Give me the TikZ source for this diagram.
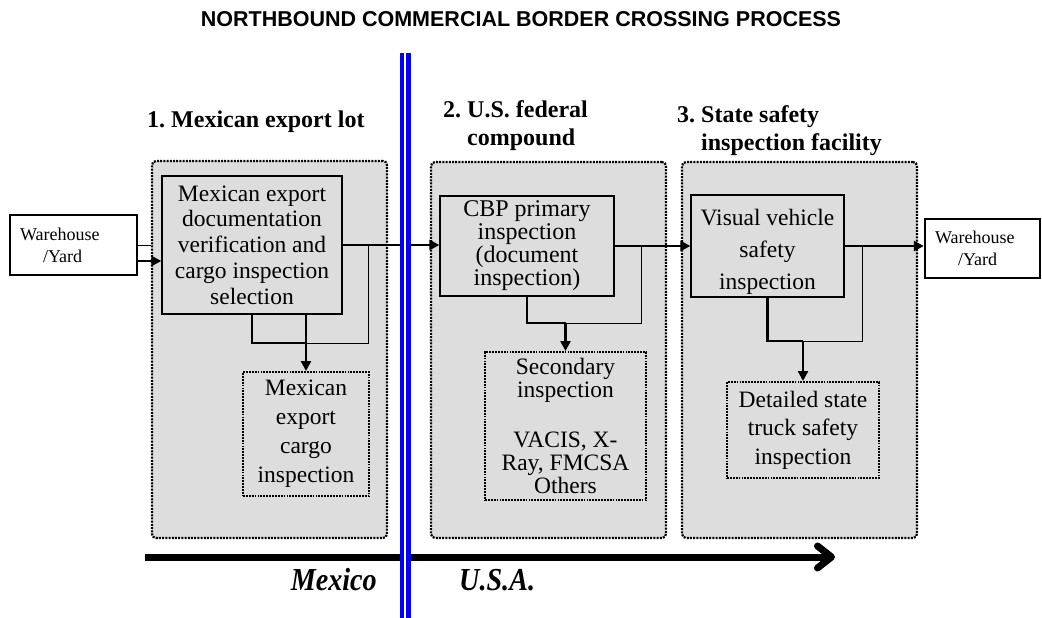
\documentclass[tikz,border=0pt]{standalone}
\usepackage{fontspec}
\setmainfont{Liberation Serif}
\newfontfamily\headsans{Liberation Sans}
\usetikzlibrary{arrows.meta,calc}
\definecolor{zone}{HTML}{DDDDDD}
\definecolor{border}{HTML}{0000FF}
\frenchspacing

\tikzset{
  zonebox/.style={draw, fill=zone, line width=2.2pt, dash pattern=on 2pt off 1.2pt, rounded corners=4pt},
  stepbox/.style={draw, fill=zone, line width=1.3pt, inner sep=0pt, align=center},
  subbox/.style={draw, fill=zone, line width=2pt, dash pattern=on 1.8pt off 1.1pt, inner sep=0pt, align=center},
  yardbox/.style={draw, fill=white, line width=2.4pt, inner xsep=10pt, inner ysep=0pt, align=left,
    font=\fontsize{18}{22}\selectfont},
  flow/.style={-{Triangle[length=10pt,width=10pt]}, line width=2.4pt},
  loopline/.style={line width=1pt},
  heavy/.style={line width=2.4pt},
  zonehead/.style={font=\fontsize{24}{28}\selectfont\bfseries, inner sep=0pt, align=left},
  countrylabel/.style={font=\fontsize{32}{32}\selectfont\bfseries\itshape, inner sep=0pt},
}

\begin{document}
\begin{tikzpicture}[x=1pt, y=-1pt]
  \useasboundingbox (0,0) rectangle (1042,618);

  \node[font={\headsans\fontsize{21.5}{24}\selectfont\bfseries}, anchor=base] (title) at (521,27)
    {NORTHBOUND COMMERCIAL BORDER CROSSING PROCESS};

  \node[zonebox, minimum width=235pt, minimum height=377pt] (g1) at (269.5,349.5) {};
  \node[zonebox, minimum width=235pt, minimum height=376pt] (g2) at (548.5,350) {};
  \node[zonebox, minimum width=235pt, minimum height=376pt] (g3) at (799.5,350) {};

  \node[zonehead, anchor=base west] (h1) at (147,127) {1. Mexican export lot};
  \node[zonehead, anchor=north west] (h2) at (443,100) {2. U.S. federal\\\hphantom{2. }compound};
  \node[zonehead, anchor=north west] (h3) at (677,105) {3. State safety\\\hphantom{3. }inspection facility};

  \node[yardbox, text width=107pt, minimum height=60pt] (whin) at (73.5,245) {Warehouse\\\hspace*{23pt}/Yard};
  \node[yardbox, text width=95pt, minimum height=59pt] (whout) at (982.5,248.5) {Warehouse\\\hspace*{23pt}/Yard};

  \node[stepbox, minimum width=180pt, minimum height=138pt, font=\fontsize{23.5}{25.7}\selectfont] (docbox) at (252,245)
    {Mexican export\\documentation\\verification and\\cargo inspection\\selection};
  \node[stepbox, minimum width=174pt, minimum height=100pt, font=\fontsize{24}{23}\selectfont] (cbp) at (527,246)
    {CBP primary\\inspection\\(document\\inspection)};
  \node[stepbox, minimum width=153pt, minimum height=102pt, font=\fontsize{23.5}{32}\selectfont] (visual) at (767.5,246)
    {\rule{0pt}{27pt}Visual vehicle\\safety\\inspection};

  \node[subbox, minimum width=126pt, minimum height=124pt, font=\fontsize{23.5}{29}\selectfont] (mexinsp) at (306,434)
    {Mexican\\export\\cargo\\inspection};
  \node[subbox, minimum width=161pt, minimum height=148pt, font=\fontsize{23.5}{23}\selectfont] (secinsp) at (565.5,426)
    {Secondary\\inspection\\[27pt]VACIS, X-\\Ray, FMCSA\\Others};
  \node[subbox, minimum width=152pt, minimum height=96pt, font=\fontsize{23.5}{28.5}\selectfont] (statinsp) at (803,430)
    {Detailed state\\truck safety\\inspection};

  \coordinate (axisL) at (145,557);
  \coordinate (axisR) at (835,557);
  \draw[line width=7pt, -{Straight Barb[length=14pt,width=22pt,line cap=round,line join=round]}] (axisL) -- (axisR);

  \node[countrylabel, anchor=base east] (mexico) at (377,590) {\scalebox{0.88}[1]{Mexico}};
  \node[countrylabel, anchor=base west] (usa) at (459,590) {\scalebox{0.88}[1]{U.S.A.}};

  \coordinate (whfeed) at ($(whin.east)+(0,16)$);
  \draw[loopline] (whin.east) -- (whin.east -| g1.west);
  \draw[flow] (whfeed) -- (whfeed -| docbox.west);
  \draw[flow] (docbox.east) -- (docbox.east -| cbp.west);
  \draw[flow] (cbp.east) -- (visual.west);
  \draw[flow] (visual.east) -- (visual.east -| whout.west);

  \coordinate (j1) at (mexinsp.north |- 0,343);
  \coordinate (b1) at (368,245);
  \draw[loopline] (j1) -| (b1);
  \draw[heavy] (docbox.south) |- (j1);
  \draw[flow] (mexinsp.north |- docbox.south) -- (mexinsp.north);

  \coordinate (j2) at (secinsp.north |- 0,323);
  \coordinate (b2) at (641,246);
  \draw[loopline] (j2) -| (b2);
  \draw[heavy] (cbp.south) |- (j2);
  \draw[flow] (j2) -- (secinsp.north);

  \coordinate (j3) at (statinsp.north |- 0,341);
  \coordinate (b3) at (862,246);
  \draw[loopline] (j3) -| (b3);
  \draw[heavy] (visual.south) |- (j3);
  \draw[flow] (j3) -- (statinsp.north);

  \coordinate (bordertop) at (405.25,53);
  \coordinate (borderbot) at (405.25,618);
  \draw[border, line width=4.5pt, double=white, double distance=2pt] (bordertop) -- (borderbot);
\end{tikzpicture}
\end{document}
